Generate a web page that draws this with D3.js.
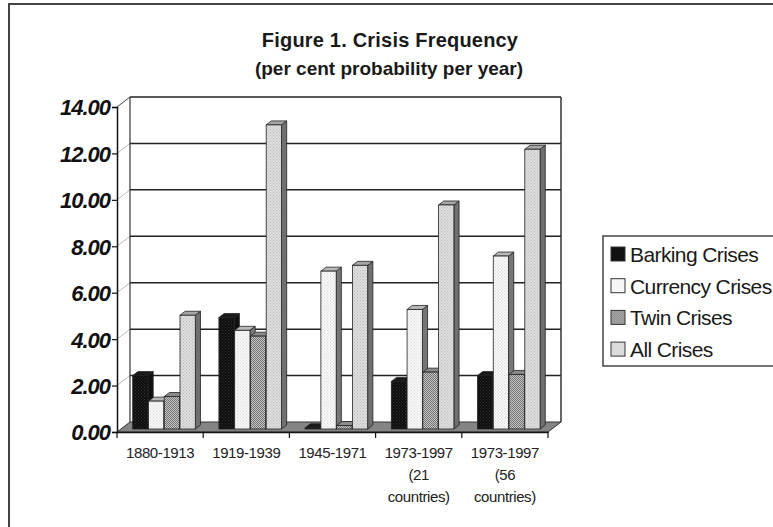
<!DOCTYPE html>
<html>
<head>
<meta charset="utf-8">
<script src="https://cdn.jsdelivr.net/npm/d3@7"></script>
<style>
  body { margin: 0; background: #fff; }
  svg { display: block; font-family: 'Liberation Sans', Arial, sans-serif; }
</style>
</head>
<body>
<svg id="chart" width="773" height="527"></svg>
<script>
const categories = ['1880-1913', '1919-1939', '1945-1971', '1973-1997 (21)', '1973-1997 (56)']
const categoryLines = [
  ['1880-1913'],
  ['1919-1939'],
  ['1945-1971'],
  ['1973-1997', '(21', 'countries)'],
  ['1973-1997', '(56', 'countries)']
]
const seriesNames = ['Barking Crises', 'Currency Crises', 'Twin Crises', 'All Crises']
const banking = [2.3, 4.8, 0.05, 2.05, 2.3]
const currency = [1.2, 4.25, 6.8, 5.15, 7.45]
const twin = [1.4, 4.0, 0.15, 2.45, 2.35]
const all = [4.9, 13.1, 7.05, 9.65, 12.05]
const yTicks = [0, 2, 4, 6, 8, 10, 12, 14]

const values = [banking, currency, twin, all]

const svg = d3.select('#chart')

// patterns for the bar faces
const defs = svg.append('defs')
const dots = (id, bg, fg, size) => {
  const p = defs.append('pattern')
    .attr('id', id)
    .attr('patternUnits', 'userSpaceOnUse')
    .attr('width', size)
    .attr('height', size)
  p.append('rect').attr('width', size).attr('height', size).attr('fill', bg)
  p.append('rect').attr('width', 1).attr('height', 1).attr('fill', fg)
  p.append('rect').attr('x', size / 2).attr('y', size / 2).attr('width', 1).attr('height', 1).attr('fill', fg)
}
dots('pBank', '#0d0d0d', '#333', 3)
dots('pCur', '#f7f7f7', '#dcdcdc', 3)
dots('pTwin', '#c8c8c8', '#707070', 2)
dots('pAll', '#dedede', '#bdbdbd', 3)

const fills = ['url(#pBank)', 'url(#pCur)', 'url(#pTwin)', 'url(#pAll)']
const tops = ['#1a1a1a', '#b8b8b8', '#8a8a8a', '#a6a6a6']
const sides = ['#111', '#777', '#6a6a6a', '#707070']
const swatch = ['#111', '#f7f7f7', 'url(#pTwin)', '#dcdcdc']

// outer frame
svg.append('rect')
  .attr('x', 9).attr('y', 4)
  .attr('width', 800).attr('height', 560)
  .attr('fill', 'none')
  .attr('stroke', '#444')
  .attr('stroke-width', 2)

// titles
svg.append('text')
  .attr('x', 390).attr('y', 47)
  .attr('text-anchor', 'middle')
  .style('font-size', '20px')
  .style('font-weight', 'bold')
  .style('letter-spacing', '0.2px')
  .attr('fill', '#1a1a1a')
  .text('Figure 1. Crisis Frequency')
svg.append('text')
  .attr('x', 389).attr('y', 75)
  .attr('text-anchor', 'middle')
  .style('font-size', '19px')
  .style('font-weight', 'bold')
  .style('letter-spacing', '0px')
  .attr('fill', '#1a1a1a')
  .text('(per cent probability per year)')

const x = d3.scaleBand().domain(categories).range([117, 548])
const x1 = d3.scaleBand().domain(seriesNames).range([0, x.bandwidth()]).paddingInner(0.03).paddingOuter(0.75)
const y = d3.scaleLinear().domain([0, 14]).range([432, 107])

const dx = 13
const dy = -10
const xL = x.range()[0]
const xR = x.range()[1]

// back wall
const g = svg.append('g')
g.append('rect')
  .attr('x', xL + dx).attr('y', y(14) + dy)
  .attr('width', xR - xL).attr('height', y(0) - y(14))
  .attr('fill', '#fff')

g.selectAll('.slant')
  .data(yTicks.slice(1))
  .join('line')
  .attr('x1', xL).attr('y1', (d) => y(d))
  .attr('x2', xL + dx).attr('y2', (d) => y(d) + dy)
  .attr('stroke', (d) => d === 14 ? '#444' : '#bbb')
  .attr('stroke-width', 1)

g.selectAll('.grid')
  .data(yTicks.slice(1))
  .join('line')
  .attr('x1', xL + dx).attr('x2', xR + dx)
  .attr('y1', (d) => y(d) + dy).attr('y2', (d) => y(d) + dy)
  .attr('stroke', '#222')
  .attr('stroke-width', 1.5)

g.append('line')
  .attr('x1', xL + dx).attr('x2', xL + dx)
  .attr('y1', y(14) + dy).attr('y2', y(0) + dy)
  .attr('stroke', '#333').attr('stroke-width', 1.2)
g.append('line')
  .attr('x1', xR + dx).attr('x2', xR + dx)
  .attr('y1', y(14) + dy).attr('y2', y(0) + dy)
  .attr('stroke', '#333').attr('stroke-width', 1.5)

// floor
g.append('path')
  .attr('d', `M${xL},${y(0)} L${xR},${y(0)} L${xR + dx},${y(0) + dy} L${xL + dx},${y(0) + dy} Z`)
  .attr('fill', '#858585')
  .attr('stroke', '#333')
  .attr('stroke-width', 1)

// bars, drawn left to right so side faces hide behind the next front face
const z0 = 0.3
const zd = 0.4
const bars = []
categories.forEach((c, ci) => {
  seriesNames.forEach((s, si) => {
    bars.push({ c, s, si, v: values[si][ci] })
  })
})

const bx = (d) => x(d.c) + x1(d.s) + z0 * dx
const by = (d) => y(d.v) + z0 * dy
const bw = x1.bandwidth()
const ox = zd * dx
const oy = zd * dy

const bar = g.selectAll('.bar')
  .data(bars)
  .join('g')
  .attr('class', 'bar')

bar.append('path')
  .attr('d', (d) => {
    const x0 = bx(d) + bw
    const yt = by(d)
    const yb = y(0) + z0 * dy
    return `M${x0},${yt} L${x0 + ox},${yt + oy} L${x0 + ox},${yb + oy} L${x0},${yb} Z`
  })
  .attr('fill', (d) => sides[d.si])
  .attr('stroke', '#222')
  .attr('stroke-width', 0.8)

bar.append('path')
  .attr('d', (d) => {
    const x0 = bx(d)
    const yt = by(d)
    return `M${x0},${yt} L${x0 + ox},${yt + oy} L${x0 + bw + ox},${yt + oy} L${x0 + bw},${yt} Z`
  })
  .attr('fill', (d) => tops[d.si])
  .attr('stroke', '#222')
  .attr('stroke-width', 0.8)

bar.append('rect')
  .attr('x', bx)
  .attr('y', by)
  .attr('width', bw)
  .attr('height', (d) => y(0) - y(d.v))
  .attr('fill', (d) => fills[d.si])
  .attr('stroke', '#222')
  .attr('stroke-width', 0.8)

// y axis
const axisY = d3.axisLeft(y).tickValues(yTicks).tickFormat(d3.format('.2f')).tickSize(5)
const gy = svg.append('g')
  .attr('transform', `translate(${xL}, 0)`)
  .call(axisY)
gy.select('.domain').attr('stroke', '#111').attr('stroke-width', 1.5)
gy.selectAll('.tick line').attr('stroke', '#111').attr('stroke-width', 1.2)
gy.selectAll('.tick text')
  .attr('x', -7)
  .attr('dy', '0.36em')
  .attr('fill', '#111')
  .style('font-size', '22px')
  .style('font-style', 'italic')
  .style('font-weight', 'bold')
  .style('letter-spacing', '-1px')
  .style('font-family', "'Liberation Sans', Arial, sans-serif")

// x axis: domain line, ticks at the category boundaries, labels under each band
const axisX = d3.axisBottom(x).tickValues([]).tickSizeOuter(0)
const gx = svg.append('g')
  .attr('transform', `translate(0, ${y(0)})`)
  .call(axisX)
gx.select('.domain').attr('stroke', '#111').attr('stroke-width', 1.5)

const bounds = categories.map((c) => x(c)).concat([xR])
gx.selectAll('.bound')
  .data(bounds)
  .join('line')
  .attr('x1', (d) => d).attr('x2', (d) => d)
  .attr('y1', 0).attr('y2', 6)
  .attr('stroke', '#111')
  .attr('stroke-width', 1.2)

gx.selectAll('.lab')
  .data(categories)
  .join('text')
  .attr('text-anchor', 'middle')
  .attr('fill', '#222')
  .style('font-size', '15px')
  .style('letter-spacing', '-0.4px')
  .each(function (c, i) {
    d3.select(this)
      .selectAll('tspan')
      .data(categoryLines[i])
      .join('tspan')
      .attr('x', x(c) + x.bandwidth() / 2)
      .attr('y', (d, k) => 26 + k * 22)
      .text((d) => d)
  })

// legend
const lg = svg.append('g').attr('transform', 'translate(603, 236)')
lg.append('rect')
  .attr('width', 200).attr('height', 130)
  .attr('fill', '#fff')
  .attr('stroke', '#444')
  .attr('stroke-width', 1.5)

const item = lg.selectAll('.item')
  .data(seriesNames)
  .join('g')
  .attr('transform', (d, i) => `translate(8, ${18 + i * 31.7})`)
item.append('rect')
  .attr('x', 0).attr('y', -7)
  .attr('width', 14).attr('height', 14)
  .attr('fill', (d, i) => swatch[i])
  .attr('stroke', '#333')
  .attr('stroke-width', 1)
item.append('text')
  .attr('x', 19).attr('y', 8)
  .attr('fill', '#1a1a1a')
  .style('font-size', '21px')
  .style('letter-spacing', '-0.6px')
  .text((d) => d)
</script>
</body>
</html>
